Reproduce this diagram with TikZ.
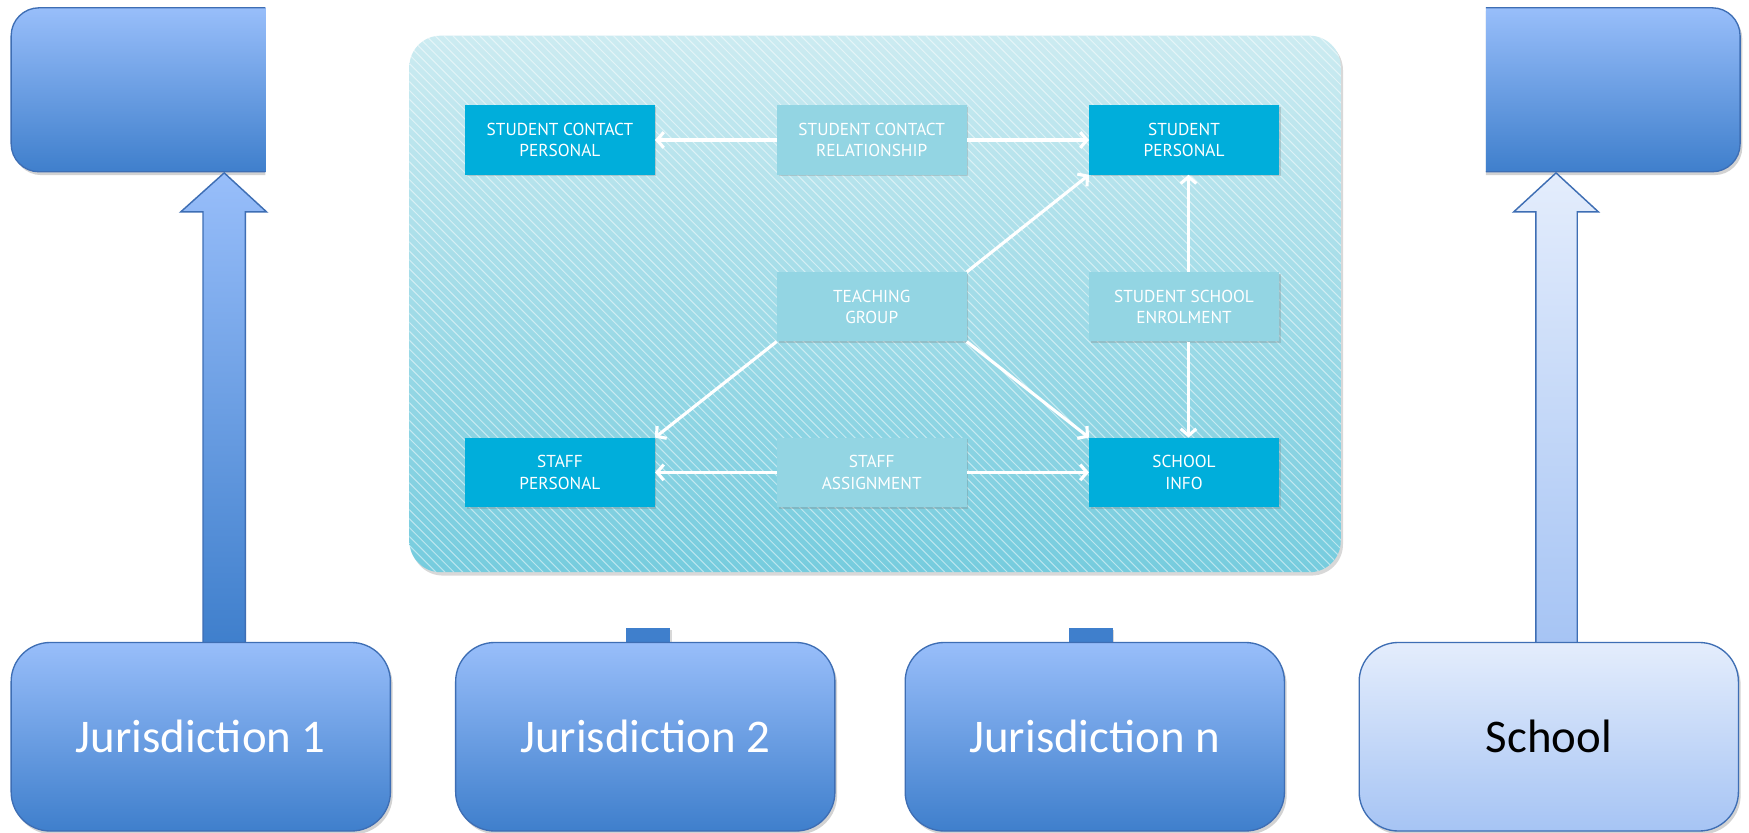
\documentclass[tikz,border=0pt]{standalone}
\usepackage{fontspec}
\setmainfont{Carlito}
\newfontfamily\innerfont{PT Sans}
\usetikzlibrary{arrows.meta,shadows}
\definecolor{jtop}{RGB}{152,190,250}
\definecolor{jbot}{RGB}{63,127,204}
\definecolor{jline}{RGB}{62,110,180}
\definecolor{stop}{RGB}{228,237,252}
\definecolor{sbot}{RGB}{166,196,244}
\definecolor{ptop}{RGB}{204,235,241}
\definecolor{pbot}{RGB}{118,204,222}
\definecolor{darkbox}{RGB}{0,174,219}
\definecolor{lightbox}{RGB}{147,213,227}
\tikzset{
  jbox/.style={draw=jline, line width=1.2pt, rounded corners=35pt, top color=jtop, bottom color=jbot,
     minimum width=340pt, minimum height=169pt, inner sep=0pt, text=white,
     font=\fontsize{42}{50}\selectfont,
     drop shadow={opacity=0.35, shadow xshift=2pt, shadow yshift=-3pt}},
  sbox/.style={jbox, top color=stop, bottom color=sbot, text=black},
  topbox/.style={draw=jline, line width=1.2pt, rounded corners=25pt, top color=jtop, bottom color=jbot,
     minimum width=300pt, minimum height=147pt, inner sep=0pt,
     drop shadow={opacity=0.35, shadow xshift=2pt, shadow yshift=-3pt}},
  ebox/.style={minimum width=170pt, minimum height=62pt, inner sep=0pt, align=center, text=white,
     font=\innerfont\fontsize{15.5}{19}\selectfont,
     drop shadow={opacity=0.3, shadow xshift=1.5pt, shadow yshift=-1.5pt}},
  dbox/.style={ebox, fill=darkbox},
  lbox/.style={ebox, fill=lightbox},
  rel/.style={white, line width=2.8pt, -{Straight Barb[length=6pt,width=14pt]}},
  stub/.style={fill=jbot, minimum width=40pt, minimum height=14pt, inner sep=0pt,
     drop shadow={opacity=0.3, shadow xshift=1pt, shadow yshift=-2pt}},
  blockarrow/.style={draw=jline, line width=1.3pt, top color=jtop, bottom color=jbot},
  blockarrowlight/.style={draw=jline, line width=1.3pt, top color=stop, bottom color=sbot}
}
\begin{document}
\begin{tikzpicture}[x=1pt,y=-1pt]
\useasboundingbox (0,0) rectangle (1568,746);
\fill[white] (0,0) rectangle (1568,746);

% top boxes (clipped)
\begin{scope}
  \clip (0,0) rectangle (238,200);
  \node[topbox] (tl) at (160,80.5) {};
\end{scope}
\begin{scope}
  \clip (1332,0) rectangle (1568,200);
  \node[topbox] (tr) at (1410,80.5) {};
\end{scope}

% central panel
\path[rounded corners=28pt, top color=ptop, bottom color=pbot,
  drop shadow={opacity=0.3, shadow xshift=2pt, shadow yshift=-3pt}]
  (367,32) rectangle (1202,513);
\begin{scope}
  \clip[rounded corners=28pt] (367,32) rectangle (1202,513);
  \foreach \i in {0,...,166}
    \draw[white, opacity=0.5, line width=0.9pt] ({-114+\i*8},32) -- ++(481,481);
\end{scope}

% entity boxes
\node[dbox] (scp) at (502,125.5) {STUDENT CONTACT\\PERSONAL};
\node[lbox] (scr) at (781.5,125.5) {STUDENT CONTACT\\RELATIONSHIP};
\node[dbox] (sp) at (1061.5,125.5) {STUDENT\\PERSONAL};
\node[lbox] (tg) at (781.5,275) {TEACHING\\GROUP};
\node[lbox] (sse) at (1061.5,275) {STUDENT SCHOOL\\ENROLMENT};
\node[dbox] (stp) at (502,423.5) {STAFF\\PERSONAL};
\node[lbox] (sa) at (781.5,423.5) {STAFF\\ASSIGNMENT};
\node[dbox] (si) at (1061.5,423.5) {SCHOOL\\INFO};

\draw[rel] (scr) -- (scp);
\draw[rel] (scr) -- (sp);
\draw[rel] (tg.north east) -- (sp.south west);
\draw[rel] (tg.south west) -- (stp.north east);
\draw[rel] (tg.south east) -- (si.north west);
\draw[rel] ([xshift=4pt]sse.north) -- ([xshift=4pt]sp.south);
\draw[rel] ([xshift=4pt]sse.south) -- ([xshift=4pt]si.north);
\draw[rel] (sa) -- (stp);
\draw[rel] (sa) -- (si);

% block arrows
\path[blockarrow] (182,577) -- (182,190) -- (162,190) -- (201,155) -- (239,190) -- (220,190) -- (220,577) -- cycle;
\path[blockarrowlight] (1377,577) -- (1377,190) -- (1357,190) -- (1395,155) -- (1433,190) -- (1414,190) -- (1414,577) -- cycle;

% stubs
\node[stub] (st2) at (581,570) {};
\node[stub] (stn) at (978,570) {};

% bottom boxes
\node[jbox] (j1) at (180,660.5) {Jurisdiction 1};
\node[jbox] (j2) at (578.5,660.5) {Jurisdiction 2};
\node[jbox] (jn) at (981.5,660.5) {Jurisdiction n};
\node[sbox] (sc) at (1388.5,660.5) {School};
\end{tikzpicture}
\end{document}
